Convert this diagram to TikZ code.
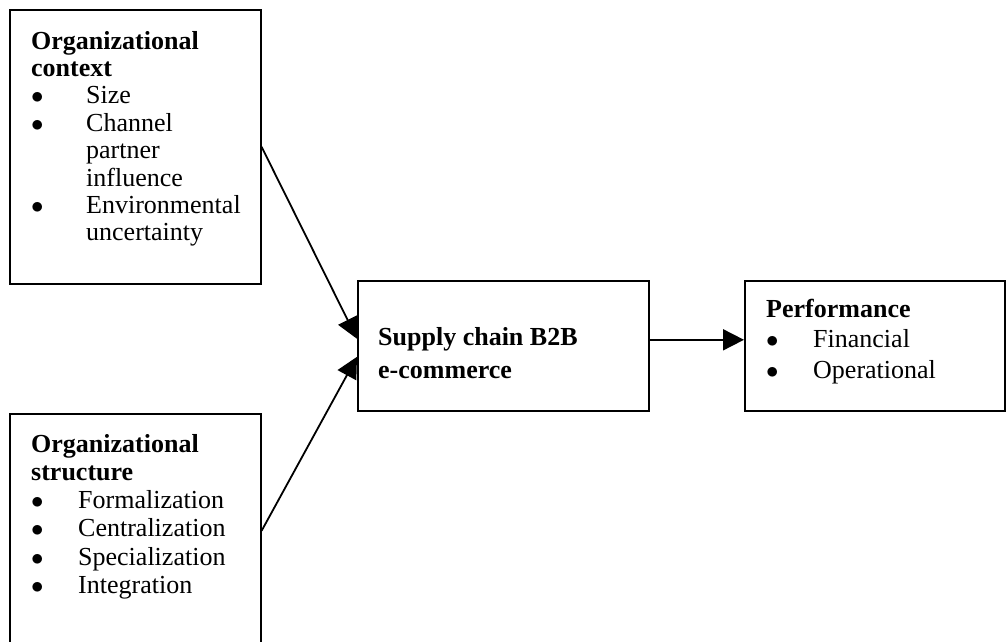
\documentclass[tikz,border=0pt]{standalone}
\usepackage{fontspec}
\setmainfont{Liberation Serif}
\usetikzlibrary{arrows.meta}
\newcommand\bhead[1]{\multicolumn{2}{@{}l@{}}{\textbf{#1}}}
\newcommand\bdot{$\bullet$}

\begin{document}
\begin{tikzpicture}[x=1pt, y=-1pt,
    box/.style={draw=black, line width=1.6pt, fill=white, anchor=north west},
    txt/.style={anchor=base west, inner sep=0pt},
    link/.style={line width=1.8pt, -{Triangle[length=21pt,width=21pt]}}]
    \useasboundingbox (0,0) rectangle (1006,641);
    % boxes
    \node [box, minimum width=251pt, minimum height=274pt] (ctx) at (9,9) {};
    \node [box, minimum width=251pt, minimum height=234pt] (str) at (9,413) {};
    \node [box, minimum width=291pt, minimum height=130pt] (scm) at (357,280) {};
    \node [box, minimum width=260pt, minimum height=130pt] (perf) at (744,280) {};
    % texts
    \node [txt, font=\fontsize{26}{27.4}\selectfont] (ctxtext) at (31,49)
        {\begin{tabular}[t]{@{}p{55pt}@{}l@{}}
            \bhead{Organizational}\\
            \bhead{context}\\
            \bdot & Size\\
            \bdot & Channel\\
                  & partner\\
                  & influence\\
            \bdot & Environmental\\
                  & uncertainty
        \end{tabular}};
    \node [txt, font=\fontsize{26}{28.3}\selectfont] (strtext) at (31,452)
        {\begin{tabular}[t]{@{}p{47pt}@{}l@{}}
            \bhead{Organizational}\\
            \bhead{structure}\\
            \bdot & Formalization\\
            \bdot & Centralization\\
            \bdot & Specialization\\
            \bdot & Integration
        \end{tabular}};
    \node [txt, font=\fontsize{26}{33}\selectfont\bfseries] (scmtext) at (378,345)
        {\begin{tabular}[t]{@{}l@{}}
            Supply chain B2B\\
            e-commerce
        \end{tabular}};
    \node [txt, font=\fontsize{26}{30.5}\selectfont] (perftext) at (766,317)
        {\begin{tabular}[t]{@{}p{47pt}@{}l@{}}
            \bhead{Performance}\\
            \bdot & Financial\\
            \bdot & Operational
        \end{tabular}};
    % links
    \draw [link] (ctx.east) -- ([yshift=7pt]scm.west);
    \draw [link] (str.east) -- ([yshift=-11pt]scm.west);
    \draw [link] ([yshift=6pt]scm.east) -- ([yshift=6pt]perf.west);
\end{tikzpicture}
\end{document}
